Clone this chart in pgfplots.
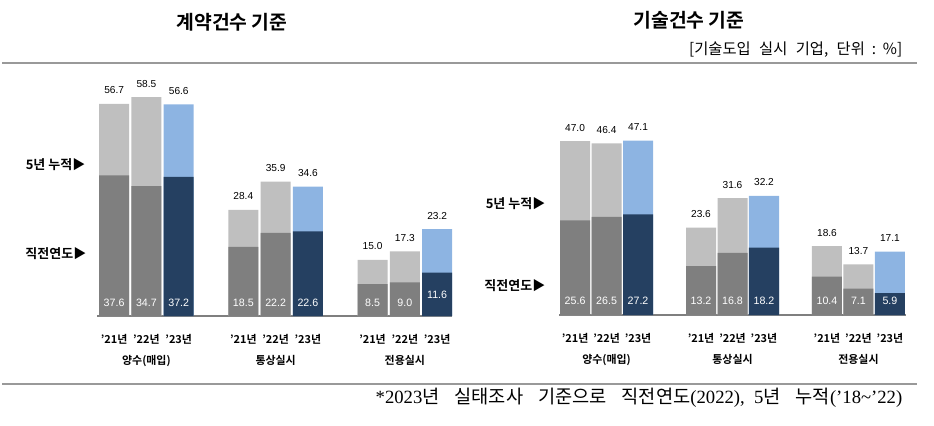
\documentclass[border=0pt]{standalone}
\usepackage{fontspec}
\usepackage{pgfplots}
\usepackage{pgfplotstable}
\pgfplotsset{compat=1.18}
\setmainfont{Liberation Sans}
\newfontfamily\kr{Noto Sans CJK KR}[BoldFont={Noto Sans CJK KR Bold}]
\newfontfamily\serifl{Liberation Serif}
\definecolor{lgray}{HTML}{BFBFBF}
\definecolor{dgray}{HTML}{7F7F7F}
\definecolor{navy}{HTML}{254061}
\definecolor{lblue}{HTML}{8DB4E2}
\definecolor{rule}{HTML}{999999}

% left: contract count
\pgfplotstableread{
x tot dir ly
0 56.7 37.6 3.5
1 58.5 34.7 3.5
4 28.4 18.5 3.5
5 35.9 22.2 3.5
8 15.0 8.5 3.5
9 17.3 9.0 3.5
}\LeftOld
\pgfplotstableread{
x tot dir ly
2 56.6 37.2 3.5
6 34.6 22.6 3.5
10 23.2 11.6 5.6
}\LeftNew
% right: technology count
\pgfplotstableread{
x tot dir ly
0 47.0 25.6 3.8
1 46.4 26.5 3.8
4 23.6 13.2 3.8
5 31.6 16.8 3.8
8 18.6 10.4 3.8
9 13.7 7.1 3.8
}\RightOld
\pgfplotstableread{
x tot dir ly
2 47.1 27.2 3.8
6 32.2 18.2 3.8
10 17.1 5.9 3.8
}\RightNew

\pgfplotsset{
  panel/.style={
    scale only axis, clip=false, enlargelimits=false,
    ymin=0, ymax=60,
    axis x line*=bottom, axis y line=none, ytick=\empty,
    x axis line style={draw=dgray, line width=1.1pt},
    major tick length=0pt,
    xtick={0,1,2,4,5,6,8,9,10},
    xticklabels={’21년, {’22년\\양수(매입)}, ’23년, ’21년, {’22년\\통상실시}, ’23년, ’21년, {’22년\\전용실시}, ’23년},
    xticklabel style={font=\kr\bfseries\fontsize{8.2}{15.3}\selectfont, align=center},
    xticklabel shift=10.5pt,
  },
  totbar/.style={ybar, bar width=22.5pt, bar shift=0pt, draw=none, fill=#1,
    nodes near coords, point meta=explicit symbolic,
    every node near coord/.style={anchor=center, yshift=10.1pt, font=\fontsize{7.6}{9}\selectfont, text=black}},
  dirbar/.style={ybar, bar width=22.5pt, bar shift=0pt, draw=none, fill=#1},
  inlab/.style={draw=none, mark=none, nodes near coords, point meta=explicit symbolic,
    every node near coord/.style={anchor=center, font=\fontsize{8}{9}\selectfont, text=white}},
}

\begin{document}
\begin{tikzpicture}[x=0.75pt, y=0.75pt]
\path[use as bounding box] (0,0) rectangle (934,425);

% rules
\draw[rule, line width=1pt] (2,362) -- (917,362);
\draw[rule, line width=1pt] (2,41) -- (917,41);

% titles
\node[font=\kr\bfseries\fontsize{14.5}{16}\selectfont] at (232,403) {계약건수 기준};
\node[font=\kr\bfseries\fontsize{14.5}{16}\selectfont] at (689,405) {기술건수 기준};
\node[anchor=east, font=\kr\fontsize{11.5}{13}\selectfont] at (907,375) {[기술도입\hspace{0.55em}실시\hspace{0.55em}기업,\hspace{0.55em}단위\hspace{0.45em}:\hspace{0.45em}\%]};

% side labels
\node[anchor=east, font=\kr\bfseries\fontsize{9.75}{11}\selectfont] at (90,260) {5년 누적▶};
\node[anchor=east, font=\kr\bfseries\fontsize{9.75}{11}\selectfont] at (91,171) {직전연도▶};
\node[anchor=east, font=\kr\bfseries\fontsize{9.75}{11}\selectfont] at (550,221) {5년 누적▶};
\node[anchor=east, font=\kr\bfseries\fontsize{9.75}{11}\selectfont] at (550,139) {직전연도▶};

% footnote
\node[anchor=east, font=\fontsize{14}{16}\selectfont] at (907,27) {{\serifl *2023}{\kr 년\hspace{0.8em}실태조사\hspace{0.8em}기준으로\hspace{0.8em}직전연도}{\serifl (2022),\hspace{0.5em}5}{\kr 년\hspace{0.8em}누적}{\serifl (’18\textasciitilde’22)}};

\begin{axis}[panel, at={(72.75pt,81.75pt)}, anchor=south west,
  width=266.25pt, height=168.3pt, xmin=-0.53, xmax=10.46]
\addplot[totbar=lgray] table[x=x, y=tot, meta=tot] {\LeftOld};
\addplot[totbar=lblue] table[x=x, y=tot, meta=tot] {\LeftNew};
\addplot[dirbar=dgray] table[x=x, y=dir] {\LeftOld};
\addplot[dirbar=navy] table[x=x, y=dir] {\LeftNew};
\addplot[inlab] table[x=x, y=ly, meta=dir] {\LeftOld};
\addplot[inlab] table[x=x, y=ly, meta=dir] {\LeftNew};
\end{axis}

\begin{axis}[panel, at={(419.25pt,82.5pt)}, anchor=south west,
  width=260.25pt, height=166.5pt, xmin=-0.51, xmax=10.51]
\addplot[totbar=lgray] table[x=x, y=tot, meta=tot] {\RightOld};
\addplot[totbar=lblue] table[x=x, y=tot, meta=tot] {\RightNew};
\addplot[dirbar=dgray] table[x=x, y=dir] {\RightOld};
\addplot[dirbar=navy] table[x=x, y=dir] {\RightNew};
\addplot[inlab] table[x=x, y=ly, meta=dir] {\RightOld};
\addplot[inlab] table[x=x, y=ly, meta=dir] {\RightNew};
\end{axis}
\end{tikzpicture}
\end{document}
